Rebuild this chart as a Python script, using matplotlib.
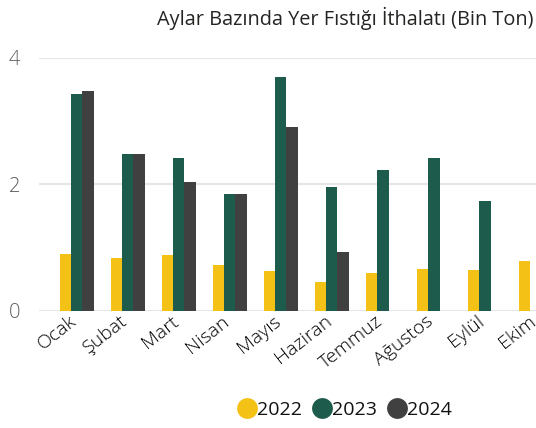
import numpy as np
import matplotlib.pyplot as plt
import matplotlib.transforms as mtransforms
from matplotlib.lines import Line2D

plt.rcParams["font.family"] = ["Open Sans", "DejaVu Sans"]

# Monthly peanut imports (thousand tons)
months = ["Ocak", "Şubat", "Mart", "Nisan", "Mayıs", "Haziran",
          "Temmuz", "Ağustos", "Eylül", "Ekim"]
y2022 = [0.89, 0.83, 0.88, 0.72, 0.63, 0.46, 0.59, 0.66, 0.64, 0.78]
y2023 = [3.42, 2.47, 2.41, 1.84, 3.69, 1.95, 2.22, 2.42, 1.74, np.nan]
y2024 = [3.48, 2.48, 2.04, 1.85, 2.91, 0.93, np.nan, np.nan, np.nan, np.nan]

years = ["2022", "2023", "2024"]
colors = ["#F4C217", "#1D5B4C", "#404040"]

fig = plt.figure(figsize=(5.36, 4.28), dpi=100)
ax = fig.add_axes([39 / 536, (428 - 310.7) / 428, 1 - 39 / 536, 253 / 428])

x = np.arange(len(months))
w = 0.222
for i, (vals, col) in enumerate(zip([y2022, y2023, y2024], colors)):
    ax.bar(x + (i - 1) * w, vals, width=w, color=col, zorder=3)

ax.set_xlim(-0.737, 8.78)
ax.set_ylim(0, 4)
ax.set_yticks([0, 2, 4])
ax.grid(axis="y", color="#E6E6E6", linewidth=1.5, zorder=0)
ax.set_axisbelow(True)
for s in ax.spines.values():
    s.set_visible(False)

ax.tick_params(axis="y", length=0, pad=22, labelsize=14.5, labelcolor="#605E5C")
ax.tick_params(axis="x", length=0, pad=1, labelsize=14, labelcolor="#000000")
ax.set_xticks(x)
ax.set_xticklabels(months, rotation=38, ha="right", rotation_mode="anchor",
                   fontweight="light")
shift = mtransforms.ScaledTranslation(-8 / 100, 0, fig.dpi_scale_trans)
for lbl in ax.get_xticklabels():
    lbl.set_transform(lbl.get_transform() + shift)
for lbl in ax.get_yticklabels():
    lbl.set_horizontalalignment("left")
    lbl.set_fontweight("light")

fig.text(0.995, 0.958, "Aylar Bazında Yer Fıstığı İthalatı (Bin Ton)",
         ha="right", va="center", fontsize=14.3, color="#252423")

handles = [Line2D([0], [0], marker="o", color="w", markerfacecolor=c,
                  markersize=16, linestyle="") for c in colors]
fig.legend(handles, years, loc="center", bbox_to_anchor=(345 / 536, 1 - 410 / 428),
           ncol=3, frameon=False, fontsize=14, handlelength=0.9,
           handletextpad=0.05, columnspacing=0.6, labelcolor="#111111")

fig.savefig("out.png", dpi=100)
